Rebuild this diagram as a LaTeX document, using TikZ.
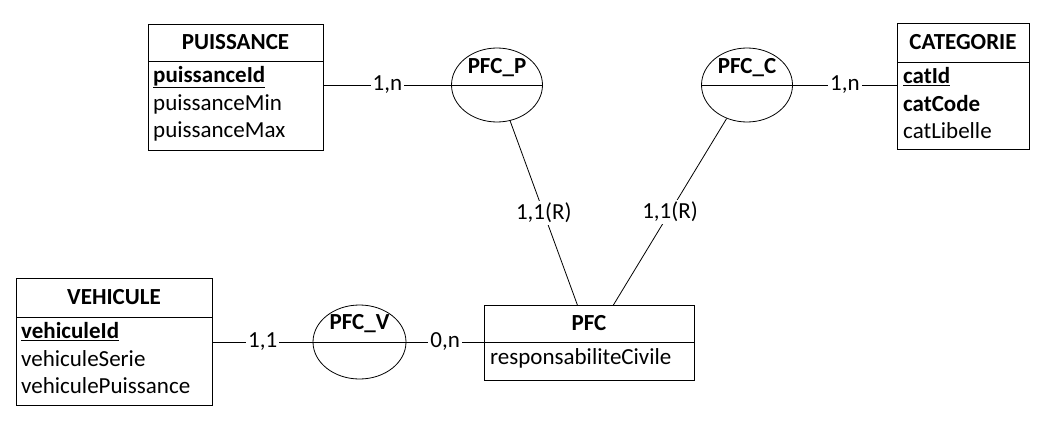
\documentclass[tikz,border=0pt]{standalone}
\usepackage{fontspec}
\setmainfont{Carlito}
\usetikzlibrary{shapes.geometric,calc}
\begin{document}
\begin{tikzpicture}[x=1pt,y=-1pt,
  every node/.style={font=\fontsize{23}{27}\selectfont},
  box/.style={draw, line width=0.8pt, inner sep=0pt, anchor=north west, rectangle},
  ent/.style={draw, line width=0.8pt, ellipse, inner sep=0pt, minimum width=91pt, minimum height=74pt},
  title/.style={font=\fontsize{23}{27}\selectfont\bfseries, inner sep=0pt},
  attr/.style={anchor=west, inner sep=0pt},
  card/.style={fill=white, inner sep=2pt},
  link/.style={line width=0.8pt}]
\useasboundingbox (0,0) rectangle (1049,439);

% PUISSANCE
\node[box, minimum width=175pt, minimum height=126pt] (puis) at (148,24) {};
\draw[link] (puis.west |- 0,61) -- (puis.east |- 0,61);
\node[title] (puist) at (235.5,42) {PUISSANCE};
\node[attr] (puis1) at (153,77) {\textbf{\underline{puissanceId}}};
\node[attr] (puis2) at (153,104) {puissanceMin};
\node[attr] (puis3) at (153,131) {puissanceMax};

% CATEGORIE
\node[box, minimum width=132pt, minimum height=126pt] (cat) at (897,23) {};
\draw[link] (cat.west |- 0,62) -- (cat.east |- 0,62);
\node[title] (catt) at (963,42) {CATEGORIE};
\node[attr] (cat1) at (903,77) {\textbf{\underline{catId}}};
\node[attr] (cat2) at (903,104) {\textbf{catCode}};
\node[attr] (cat3) at (903,131) {catLibelle};

% VEHICULE
\node[box, minimum width=196pt, minimum height=127pt] (veh) at (16,278) {};
\draw[link] (veh.west |- 0,317) -- (veh.east |- 0,317);
\node[title] (veht) at (114,297) {VEHICULE};
\node[attr] (veh1) at (21,332) {\textbf{\underline{vehiculeId}}};
\node[attr] (veh2) at (21,359) {vehiculeSerie};
\node[attr] (veh3) at (21,386) {vehiculePuissance};

% PFC
\node[box, minimum width=210pt, minimum height=75pt] (pfc) at (484,305) {};
\draw[link] (pfc.west |- 0,342) -- (pfc.east |- 0,342);
\node[title] (pfct) at (589,323) {PFC};
\node[attr] (pfc1) at (490,358) {responsabiliteCivile};

% associations
\node[ent] (pfcp) at (497,85) {};
\draw[link] (pfcp.west) -- (pfcp.east);
\node[title] (pfcpt) at (497,68) {PFC\_P};

\node[ent] (pfcc) at (747,85) {};
\draw[link] (pfcc.west) -- (pfcc.east);
\node[title] (pfcct) at (747,68) {PFC\_C};

\node[ent, minimum width=93pt] (pfcv) at (359.5,342) {};
\draw[link] (pfcv.west) -- (pfcv.east);
\node[title] (pfcvt) at (359.5,324) {PFC\_V};

% links
\draw[link] (puis.east |- pfcp) -- node[card] {1,n} (pfcp.west);
\draw[link] (pfcc.east) -- node[card] {1,n} (cat.west |- pfcc);
\draw[link] (veh.east |- pfcv) -- node[card] {1,1} (pfcv.west);
\draw[link] (pfcv.east) -- node[card] {0,n} (pfc.west |- pfcv);
\coordinate (pfcA) at ($(pfc.north)+(-12,0)$);
\coordinate (pfcB) at ($(pfc.north)+(24,0)$);
\draw[link] (pfcp) -- node[card, pos=0.5] {1,1(R)} (pfcA);
\draw[link] (pfcc) -- node[card, pos=0.5] {1,1(R)} (pfcB);
\end{tikzpicture}
\end{document}
